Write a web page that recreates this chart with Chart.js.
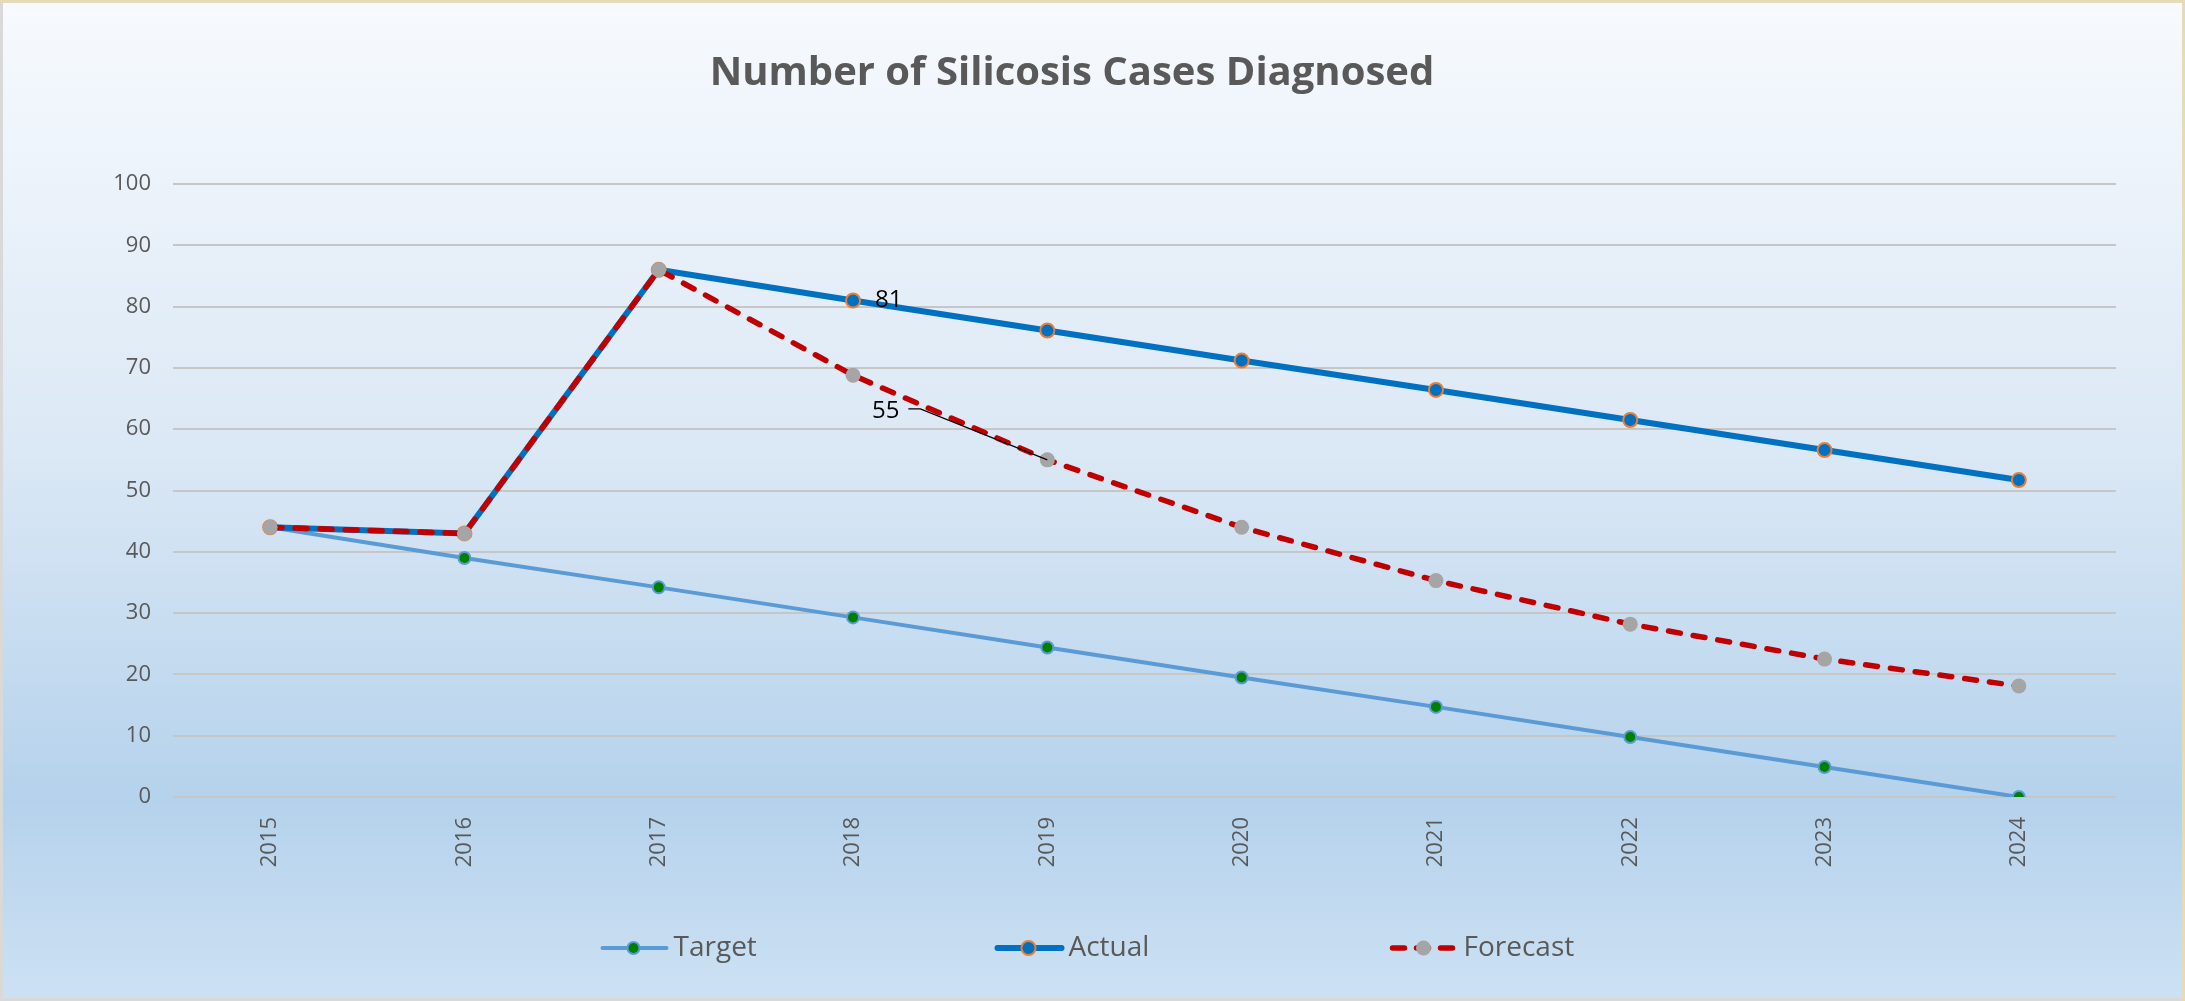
<!DOCTYPE html>
<html>
<head>
<meta charset="utf-8">
<script src="https://cdn.jsdelivr.net/npm/chart.js@4.4.1/dist/chart.umd.min.js"></script>
<style>
  html, body { margin: 0; padding: 0; background: #ffffff; }
  #wrap { width: 2185px; height: 1001px; position: relative; }
  canvas { display: block; }
</style>
</head>
<body>
<div id="wrap"><canvas id="myChart" width="2185" height="1001"></canvas></div>
<script>
// Dados do gráfico
var years = ['2015', '2016', '2017', '2018', '2019', '2020', '2021', '2022', '2023', '2024'];
var target = [44, 39, 34.2, 29.3, 24.4, 19.5, 14.7, 9.8, 4.9, 0];
var actual = [44, 43, 86, 81, 76.1, 71.2, 66.4, 61.5, 56.6, 51.7];
var forecast = [44, 43, 86, 68.8, 55, 44, 35.3, 28.2, 22.5, 18.1];
var yTicks = [0, 10, 20, 30, 40, 50, 60, 70, 80, 90, 100];

var fontFam = "'Open Sans', 'DejaVu Sans', sans-serif";
var grey = '#595959';

// fundo com gradiente, borda, título, rótulos e legenda
var decor = {
    id: 'decor',
    beforeDraw: function (chart) {
        var c = chart.ctx, w = chart.width, h = chart.height;
        c.save();
        var g = c.createLinearGradient(0, 0, 0, h);
        g.addColorStop(0, '#f7fafe');
        g.addColorStop(0.45, '#dbe8f5');
        g.addColorStop(0.8, '#b5d2ec');
        g.addColorStop(1, '#cde1f3');
        c.fillStyle = g;
        c.fillRect(0, 0, w, h);
        c.lineWidth = 3;
        c.strokeStyle = '#d9d9d9';
        c.strokeRect(1.5, 1.5, w - 3, h - 3);
        c.strokeStyle = '#e4dcb8';
        c.beginPath();
        c.moveTo(0, 1.5); c.lineTo(w - 1.5, 1.5); c.lineTo(w - 1.5, h);
        c.stroke();
        c.restore();
    },
    afterDraw: function (chart) {
        var c = chart.ctx;
        c.save();
        // título
        c.fillStyle = grey;
        c.font = 'bold 40px ' + fontFam;
        c.textAlign = 'center';
        c.textBaseline = 'middle';
        c.fillText('Number of Silicosis Cases Diagnosed', 1072, 74);

        // rótulos de dados
        var pA = chart.getDatasetMeta(1).data[3];
        var pF = chart.getDatasetMeta(2).data[4];
        c.fillStyle = '#000000';
        c.font = '24px ' + fontFam;
        c.textAlign = 'left';
        c.fillText(String(Math.round(actual[3])), pA.x + 22, pA.y);
        c.textAlign = 'right';
        c.fillText(String(Math.round(forecast[4])), pF.x - 148, pF.y - 49);
        c.strokeStyle = '#000000';
        c.lineWidth = 1.2;
        c.beginPath();
        c.moveTo(pF.x - 139, pF.y - 51);
        c.lineTo(pF.x - 127, pF.y - 51);
        c.lineTo(pF.x, pF.y);
        c.stroke();

        // legenda
        var items = [0, 1, 2];
        var startX = chart.width / 2 - 493;
        var ly = 948;
        c.font = '28px ' + fontFam;
        c.textAlign = 'left';
        items.forEach(function (i, k) {
            var ds = chart.data.datasets[i];
            var x0 = startX + k * 395;
            c.save();
            c.strokeStyle = ds.borderColor;
            c.lineWidth = ds.borderWidth;
            c.lineCap = 'round';
            if (ds.borderDash) c.setLineDash([12, 12]);
            c.beginPath();
            c.moveTo(x0 + 3, ly);
            c.lineTo(x0 + 67, ly);
            c.stroke();
            c.setLineDash([]);
            c.beginPath();
            c.arc(x0 + 34, ly, ds.pointRadius, 0, Math.PI * 2);
            c.fillStyle = ds.pointBackgroundColor;
            c.fill();
            if (ds.pointBorderWidth > 0) {
                c.lineWidth = ds.pointBorderWidth;
                c.strokeStyle = ds.pointBorderColor;
                c.stroke();
            }
            c.restore();
            c.fillStyle = grey;
            c.fillText(ds.label, x0 + 74, ly);
        });
        c.restore();
    }
};

var data = {
    labels: years,
    datasets: [{
        label: 'Target',
        data: target,
        borderColor: '#5b9bd5',
        borderWidth: 4,
        pointRadius: 6,
        pointBackgroundColor: '#008000',
        pointBorderColor: '#5b9bd5',
        pointBorderWidth: 2,
        order: 3
    },
    {
        label: 'Actual',
        data: actual,
        borderColor: '#0070c0',
        borderWidth: 6,
        pointRadius: 7,
        pointBackgroundColor: '#0070c0',
        pointBorderColor: '#ed7d31',
        pointBorderWidth: 2,
        order: 2
    },
    {
        label: 'Forecast',
        data: forecast,
        borderColor: '#c00000',
        borderWidth: 5.5,
        borderDash: [12, 13],
        borderCapStyle: 'round',
        pointRadius: 7.5,
        pointBackgroundColor: '#a5a5a5',
        pointBorderColor: '#a5a5a5',
        pointBorderWidth: 0,
        order: 1
    }]
};

var options = {
    responsive: false,
    animation: false,
    layout: { padding: { top: 184, right: 69, bottom: 96, left: 0 } },
    plugins: {
        legend: { display: false },
        title: { display: false },
        tooltip: { enabled: false }
    },
    scales: {
        x: {
            offset: true,
            grid: { display: false },
            border: { display: false },
            ticks: {
                color: grey,
                font: { family: fontFam, size: 22 },
                minRotation: 90,
                maxRotation: 90,
                padding: 12
            },
            afterFit: function (s) { s.height = 108; }
        },
        y: {
            min: 0,
            max: 100,
            afterBuildTicks: function (s) {
                s.ticks = yTicks.map(function (v) { return { value: v }; });
            },
            grid: { color: '#c6c6c6', lineWidth: 2, drawTicks: false },
            border: { display: false },
            ticks: {
                color: grey,
                font: { family: fontFam, size: 22 },
                padding: 22
            },
            afterFit: function (s) { s.width = 173; }
        }
    }
};

var ctx = document.getElementById('myChart').getContext('2d');
var myChart = new Chart(ctx, {
    type: 'line',
    data: data,
    options: options,
    plugins: [decor]
});
</script>
</body>
</html>
